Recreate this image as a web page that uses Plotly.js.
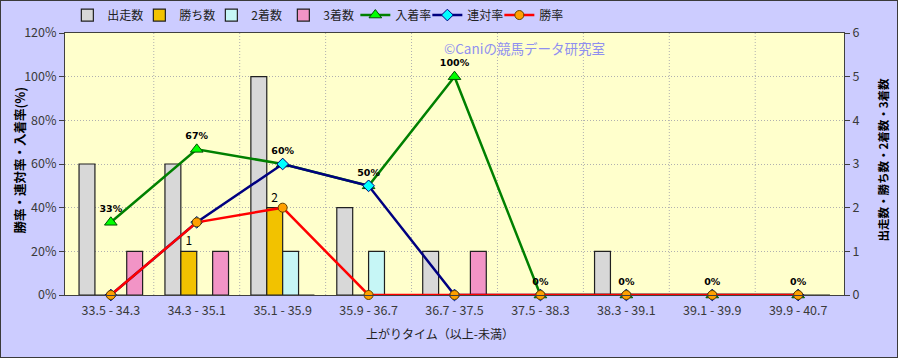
<!DOCTYPE html>
<html>
<head>
<meta charset="utf-8">
<script src="https://cdn.plot.ly/plotly-3.0.1.min.js"></script>
<style>
  html, body { margin: 0; padding: 0; background: #ccccff; }
  #wrap { position: relative; width: 898px; height: 358px; }
  #chart { width: 898px; height: 358px; }
  #frame { position: absolute; left: 0; top: 0; width: 898px; height: 358px; box-sizing: border-box; border: 1px solid #3a3a3a; pointer-events: none; }
</style>
</head>
<body>
<div id="wrap"><div id="chart"></div><div id="frame"></div></div>
<script>
// ---- data ----
const categories = ["33.5 - 34.3", "34.3 - 35.1", "35.1 - 35.9", "35.9 - 36.7", "36.7 - 37.5", "37.5 - 38.3", "38.3 - 39.1", "39.1 - 39.9", "39.9 - 40.7"];
const starts   = [3, 3, 5, 2, 1, 0, 1, 0, 0];   // 出走数
const wins     = [0, 1, 2, 0, 0, 0, 0, 0, 0];   // 勝ち数
const seconds  = [0, 0, 1, 1, 0, 0, 0, 0, 0];   // 2着数
const thirds   = [1, 1, 0, 0, 1, 0, 0, 0, 0];   // 3着数
const placeRate = [33.3, 66.7, 60, 50, 100, 0, 0, 0, 0]; // 入着率
const quinellaRate = [0, 33.3, 60, 50, 0, 0, 0, 0, 0];   // 連対率
const winRate = [0, 33.3, 40, 0, 0, 0, 0, 0, 0];         // 勝率
const leftTicks = [0, 20, 40, 60, 80, 100, 120];
const leftTickText = ["0%", "20%", "40%", "60%", "80%", "100%", "120%"];
const rightTicks = [0, 1, 2, 3, 4, 5, 6];

const FONT = "'Noto Sans CJK JP', 'DejaVu Sans', sans-serif";
const barLine = {color: '#202020', width: 1.2};

function barTrace(name, vals, color, withText) {
  const t = {
    type: 'bar', name: name, x: categories, y: vals, yaxis: 'y',
    marker: {color: color, line: barLine}
  };
  if (withText) {
    t.text = vals.map(v => v > 0 ? String(v) : '');
    t.textposition = 'outside';
    t.textfont = {size: 12, color: '#000', family: FONT};
    t.cliponaxis = false;
  }
  return t;
}

const traces = [
  barTrace('出走数', starts, '#d8d8d8', false),
  barTrace('勝ち数', wins, '#f2c200', true),
  barTrace('2着数', seconds, '#c6f6f6', false),
  barTrace('3着数', thirds, '#f294c6', false),
  {
    type: 'scatter', mode: 'lines+markers+text', name: '入着率', x: categories, y: placeRate, yaxis: 'y2',
    line: {color: '#008000', width: 2.5},
    marker: {symbol: 'triangle-up', size: 11, color: '#00ff00', line: {color: '#005000', width: 1}},
    text: placeRate.map(v => Math.round(v) + '%'),
    textposition: 'top center',
    textfont: {size: 9.5, color: '#000', family: "'DejaVu Sans', sans-serif", weight: 'bold'},
    cliponaxis: false
  },
  {
    type: 'scatter', mode: 'lines+markers', name: '連対率', x: categories, y: quinellaRate, yaxis: 'y2',
    line: {color: '#000080', width: 2.5},
    marker: {symbol: 'diamond', size: 9, color: '#00ffff', line: {color: '#000080', width: 1}},
    cliponaxis: false
  },
  {
    type: 'scatter', mode: 'lines+markers', name: '勝率', x: categories, y: winRate, yaxis: 'y2',
    line: {color: '#ff0000', width: 2.5},
    marker: {symbol: 'circle', size: 9, color: '#ffa000', line: {color: '#604000', width: 1}},
    cliponaxis: false
  }
];

// vertical dotted gridlines at category boundaries
const shapes = [];
for (let i = 0; i < categories.length - 1; i++) {
  shapes.push({type: 'line', xref: 'x', yref: 'paper', x0: i + 0.5, x1: i + 0.5, y0: 0, y1: 1,
    line: {color: '#b0b0b0', width: 1, dash: '1px,2px'}, layer: 'below'});
}

const layout = {
  width: 898, height: 358,
  margin: {l: 65, r: 54, t: 33, b: 63},
  paper_bgcolor: '#ccccff',
  plot_bgcolor: '#ffffcc',
  font: {family: FONT, size: 12, color: '#333'},
  barmode: 'group',
  bargap: 0.26,
  bargroupgap: 0,
  showlegend: true,
  legend: {
    orientation: 'h', xref: 'container', yref: 'container', x: 0.075, y: 0.958, xanchor: 'left', yanchor: 'middle',
    font: {size: 12, color: '#222', family: FONT}, bgcolor: 'rgba(0,0,0,0)', traceorder: 'normal',
    itemwidth: 30, tracegroupgap: 0, entrywidth: 27
  },
  xaxis: {
    type: 'category', showgrid: false, showline: true, mirror: true, linecolor: '#404040', linewidth: 1,
    ticks: '', tickfont: {size: 12.5, color: '#3a3a3a'}, zeroline: false, ticklabelstandoff: 4
  },
  yaxis: {
    side: 'right', range: [0, 6], tickmode: 'array', tickvals: rightTicks, showgrid: true,
    gridcolor: '#b0b0b0', griddash: '1px,2px', gridwidth: 1,
    showline: true, mirror: true, linecolor: '#404040', linewidth: 1,
    ticks: 'outside', ticklen: 5, tickcolor: '#404040', tickfont: {size: 12.5, color: '#3a3a3a'}, zeroline: false
  },
  yaxis2: {
    side: 'left', overlaying: 'y', range: [0, 120], tickmode: 'array', tickvals: leftTicks, ticktext: leftTickText, showgrid: false,
    showline: true, linecolor: '#404040', linewidth: 1,
    ticks: 'outside', ticklen: 5, tickcolor: '#404040', tickfont: {size: 12.5, color: '#3a3a3a'}, zeroline: false
  },
  shapes: shapes,
  annotations: [
    {text: '勝率・連対率・入着率(%)', xref: 'paper', yref: 'paper', x: -0.0578, y: 0.517, textangle: -90,
      showarrow: false, font: {size: 12.5, color: '#000', family: FONT, weight: 'bold'}, xanchor: 'center', yanchor: 'middle'},
    {text: '出走数・勝ち数・2着数・3着数', xref: 'paper', yref: 'paper', x: 1.05, y: 0.517, textangle: -90,
      showarrow: false, font: {size: 11.5, color: '#000', family: FONT, weight: 'bold'}, xanchor: 'center', yanchor: 'middle'},
    {text: '上がりタイム（以上-未満）', xref: 'paper', yref: 'paper', x: 0.481, y: -0.146,
      showarrow: false, font: {size: 12, color: '#222', family: FONT}, xanchor: 'center', yanchor: 'middle'},
    {text: '©Caniの競馬データ研究室', xref: 'paper', yref: 'paper', x: 0.590, y: 0.942,
      showarrow: false, font: {size: 13.5, color: '#8f8ff0', family: FONT}, xanchor: 'center', yanchor: 'middle'}
  ]
};

Plotly.newPlot('chart', traces, layout, {displayModeBar: false, staticPlot: true});
</script>
</body>
</html>
